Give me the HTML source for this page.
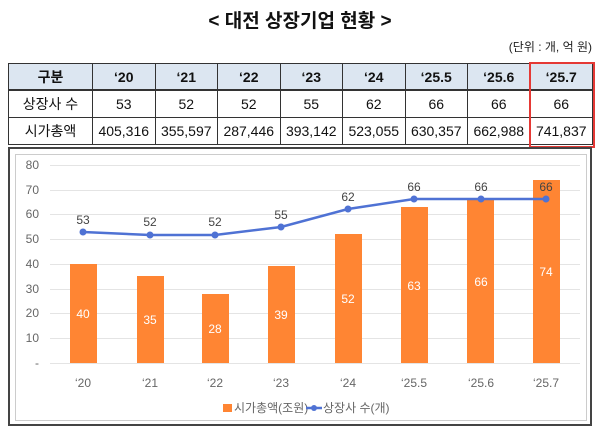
<!DOCTYPE html>
<html><head><meta charset="utf-8"><style>
body{margin:0;width:600px;height:428px;background:#fff;font-family:"Liberation Sans","Noto Sans CJK KR",sans-serif;position:relative;overflow:hidden}
.t{position:absolute;left:0;width:600px;text-align:center;top:6px;font-size:19px;font-weight:bold;color:#111}
.u{position:absolute;right:8px;top:38px;font-size:12px;color:#222}
table{position:absolute;left:8px;top:63px;border-collapse:collapse;width:585px}
td{border:1px solid #333;text-align:center;font-size:14px;height:26px;padding:0;color:#111}
tr.h td{background:#dce6f1;font-weight:bold;height:25px;border-bottom:2px solid #333}
.frame{position:absolute;left:8px;top:147px;width:580px;height:275px;border:2px solid #444}
.in{position:absolute;left:5px;top:5px;right:3px;bottom:3px;border:1px solid #ccc}
</style></head><body>
<div class="t">&lt; 대전 상장기업 현황 &gt;</div>
<div class="u">(단위 : 개, 억 원)</div>
<table>
<colgroup><col style="width:84px"><col span="8"></colgroup>
<tr class="h"><td>구분</td><td>‘20</td><td>‘21</td><td>‘22</td><td>‘23</td><td>‘24</td><td>‘25.5</td><td>‘25.6</td><td>‘25.7</td></tr>
<tr><td>상장사 수</td><td>53</td><td>52</td><td>52</td><td>55</td><td>62</td><td>66</td><td>66</td><td>66</td></tr>
<tr><td>시가총액</td><td>405,316</td><td>355,597</td><td>287,446</td><td>393,142</td><td>523,055</td><td>630,357</td><td>662,988</td><td>741,837</td></tr>
</table>
<div style="position:absolute;left:529px;top:62px;width:62px;height:82px;border:2px solid #e53935"></div>
<div class="frame"><div class="in"></div></div>
<svg style="position:absolute;left:0;top:0" width="600" height="428" font-family="Liberation Sans, Noto Sans CJK KR, sans-serif">
<g stroke="#e4e4e4" stroke-width="1">
<line x1="50" x2="580" y1="165.5" y2="165.5"/><line x1="50" x2="580" y1="190.5" y2="190.5"/><line x1="50" x2="580" y1="214.5" y2="214.5"/><line x1="50" x2="580" y1="239.5" y2="239.5"/><line x1="50" x2="580" y1="264.5" y2="264.5"/><line x1="50" x2="580" y1="289.5" y2="289.5"/><line x1="50" x2="580" y1="313.5" y2="313.5"/><line x1="50" x2="580" y1="338.5" y2="338.5"/><line x1="50" x2="580" y1="363.5" y2="363.5"/>
</g>
<g fill="#666" font-size="12" text-anchor="end">
<text x="39" y="169">80</text><text x="39" y="194">70</text><text x="39" y="218">60</text><text x="39" y="243">50</text><text x="39" y="268">40</text><text x="39" y="293">30</text><text x="39" y="317">20</text><text x="39" y="342">10</text><text x="39" y="367">-</text>
</g>
<g fill="#ff8533">
<rect x="70" y="264" width="27" height="99"/><rect x="137" y="276" width="27" height="87"/><rect x="202" y="294" width="27" height="69"/><rect x="268" y="266" width="27" height="97"/><rect x="335" y="234" width="27" height="129"/><rect x="401" y="207" width="27" height="156"/><rect x="467" y="200" width="27" height="163"/><rect x="533" y="180" width="27" height="183"/>
</g>
<g fill="#fff" font-size="12" text-anchor="middle">
<text x="83" y="318">40</text><text x="150" y="324">35</text><text x="215" y="333">28</text><text x="281" y="319">39</text><text x="348" y="303">52</text><text x="414" y="290">63</text><text x="481" y="286">66</text><text x="546" y="276">74</text>
</g>
<polyline fill="none" stroke="#4f72d4" stroke-width="2.5" points="83,232 150,235 215,235 281,227 348,209 414,199 481,199 546,199"/>
<g fill="#4f72d4"><circle cx="83" cy="232" r="3.5"/><circle cx="150" cy="235" r="3.5"/><circle cx="215" cy="235" r="3.5"/><circle cx="281" cy="227" r="3.5"/><circle cx="348" cy="209" r="3.5"/><circle cx="414" cy="199" r="3.5"/><circle cx="481" cy="199" r="3.5"/><circle cx="546" cy="199" r="3.5"/></g>
<g fill="#444" font-size="12" text-anchor="middle">
<text x="83" y="224">53</text><text x="150" y="226">52</text><text x="215" y="226">52</text><text x="281" y="219">55</text><text x="348" y="201">62</text><text x="414" y="191">66</text><text x="481" y="191">66</text><text x="546" y="191">66</text>
</g>
<g fill="#666" font-size="12" text-anchor="middle">
<text x="83" y="387">‘20</text><text x="150" y="387">‘21</text><text x="215" y="387">‘22</text><text x="281" y="387">‘23</text><text x="348" y="387">‘24</text><text x="414" y="387">‘25.5</text><text x="481" y="387">‘25.6</text><text x="546" y="387">‘25.7</text>
</g>
<rect x="223" y="404" width="9" height="8" fill="#ff8533"/>
<text x="234" y="412" font-size="12" fill="#666">시가총액(조원)</text>
<line x1="306" x2="322" y1="408" y2="408" stroke="#4f72d4" stroke-width="2.5"/><circle cx="314" cy="408" r="3" fill="#4f72d4"/>
<text x="323" y="412" font-size="12" fill="#666">상장사 수(개)</text>
</svg>
</body></html>
